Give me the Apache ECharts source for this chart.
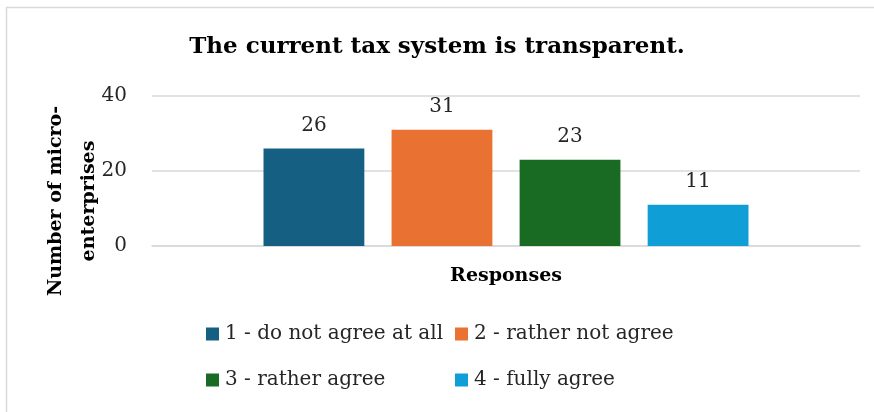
<!DOCTYPE html>
<html>
<head>
<meta charset="utf-8">
<script src="https://cdn.jsdelivr.net/npm/echarts@6/dist/echarts.min.js"></script>
<style>
  html, body { margin: 0; padding: 0; background: #fff; }
  #chart { width: 874px; height: 412px; }
</style>
</head>
<body>
<div id="chart"></div>
<script>
// Survey answers: how many micro-enterprises chose each response
const titleText = 'The current tax system is transparent.';
const categories = [''];
const seriesNames = ['1 - do not agree at all', '2 - rather not agree', '3 - rather agree', '4 - fully agree'];
const seriesValues = [26, 31, 23, 11];
const seriesColors = ['#156082', '#E97132', '#196B24', '#0F9ED5'];
const yTicks = { min: 0, max: 40, interval: 20 };

const FONT = 'DejaVu Serif';
const chart = echarts.init(document.getElementById('chart'));

const series = seriesNames.map((name, i) => ({
  name,
  type: 'bar',
  data: [seriesValues[i]],
  itemStyle: { color: seriesColors[i] },
  barGap: '27%',
  barCategoryGap: '31.5%',
  label: {
    show: true,
    position: 'top',
    distance: 13,
    fontFamily: FONT,
    fontSize: 20,
    color: '#262626'
  }
}));

// legend placed as a 2x2 block
const legendSpots = [[206, 322], [455, 322], [206, 368], [455, 368]];
const legends = seriesNames.map((name, i) => ({
  data: [name],
  left: legendSpots[i][0],
  top: legendSpots[i][1],
  padding: 0,
  itemWidth: 13,
  itemHeight: 13,
  itemGap: 0,
  icon: 'rect',
  selectedMode: false,
  textStyle: { fontFamily: FONT, fontSize: 20, color: '#262626', lineHeight: 24, padding: [0, 0, 0, 1] }
}));

chart.setOption({
  animation: false,
  backgroundColor: '#fff',
  title: {
    text: titleText,
    left: 'center',
    top: 36,
    padding: 0,
    textStyle: { fontFamily: FONT, fontSize: 23, fontWeight: 'bold', color: '#000' }
  },
  legend: legends,
  grid: { left: 152, right: 14, top: 96, bottom: 166, containLabel: false },
  xAxis: {
    type: 'category',
    data: categories,
    name: 'Responses',
    nameLocation: 'middle',
    nameGap: 21,
    nameTextStyle: { fontFamily: FONT, fontSize: 19, fontWeight: 'bold', color: '#000' },
    axisLine: { lineStyle: { color: '#d9d9d9', width: 1.5 } },
    axisTick: { show: false },
    axisLabel: { show: false }
  },
  yAxis: {
    type: 'value',
    min: yTicks.min,
    max: yTicks.max,
    interval: yTicks.interval,
    axisLine: { show: false },
    axisTick: { show: false },
    axisLabel: { fontFamily: FONT, fontSize: 20, color: '#262626', margin: 25 },
    splitLine: { lineStyle: { color: '#d9d9d9', width: 1.5 } }
  },
  graphic: [
    {
      type: 'rect',
      shape: { x: 6.5, y: 7.5, width: 900, height: 500 },
      style: { fill: 'none', stroke: '#d9d9d9', lineWidth: 1.5 },
      silent: true
    },
    {
      type: 'text',
      x: 73,
      y: 201,
      rotation: Math.PI / 2,
      style: {
        text: 'Number of micro-\nenterprises',
        fontFamily: FONT,
        fontSize: 19,
        fontWeight: 'bold',
        fill: '#000',
        lineHeight: 33,
        align: 'center',
        verticalAlign: 'middle'
      }
    }
  ],
  series
});
</script>
</body>
</html>
